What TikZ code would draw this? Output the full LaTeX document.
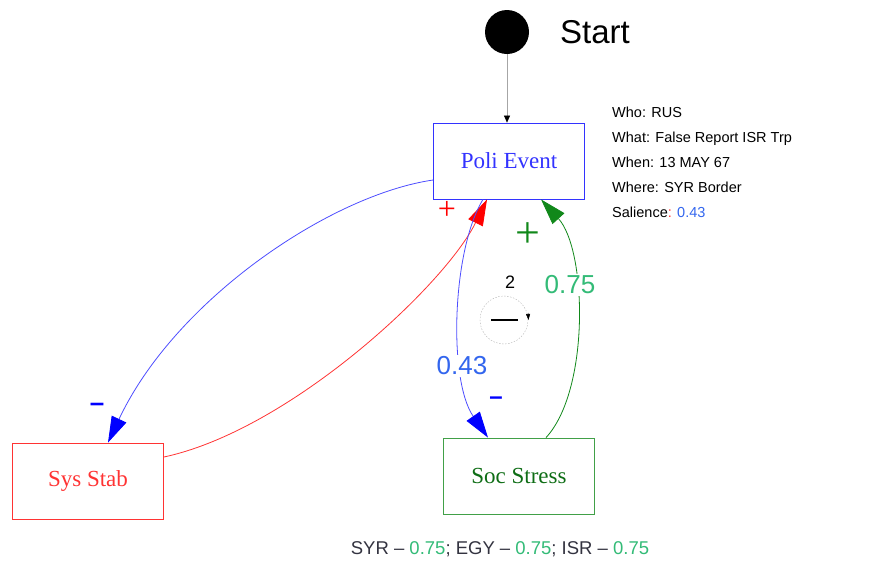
\documentclass[tikz,border=0pt]{standalone}
\usepackage{fontspec}
\setmainfont{Liberation Serif}
\newfontfamily\arialfont{Liberation Sans}
\usetikzlibrary{arrows.meta}
\definecolor{evblue}{HTML}{3333FF}
\definecolor{lnblue}{HTML}{4D4DFF}
\definecolor{valblue}{HTML}{3366EE}
\definecolor{evred}{HTML}{FF3333}
\definecolor{evgreen}{HTML}{11881A}
\definecolor{valgreen}{HTML}{33BB77}
\definecolor{txtgray}{HTML}{333340}
\tikzset{
  factor/.style={draw, line width=0.8pt, minimum width=151pt, minimum height=76pt, inner sep=0pt,
    font=\fontsize{23}{23}\selectfont},
  lbl/.style={font=\arialfont\fontsize{#1}{#1}\selectfont, inner sep=1pt},
  sgn/.style={font=\fontsize{#1}{#1}\selectfont, inner sep=0pt},
  link/.style={line width=0.8pt, -{Triangle[length=26pt,width=16pt,#1]}}
}
\begin{document}
\begin{tikzpicture}[x=1pt,y=-1pt]
  \useasboundingbox (0,0) rectangle (870,563);
  % start
  \node[circle, fill=black, minimum size=44pt, inner sep=0pt] (start) at (507,32) {};
  \node[lbl=33, anchor=west] (startlbl) at (559,32) {Start};
  % factors
  \node[factor, draw=evblue, text=evblue] (poli) at (509,161) {Poli Event};
  \node[factor, draw=evred, text=evred] (sys) at (88,481) {Sys Stab};
  \node[factor, draw=evgreen!80, text=evgreen!80!black] (soc) at (519,476) {Soc Stress};
  \draw[gray!70, line width=0.6pt, -{Triangle[length=7pt,width=6pt,black]}] (start) -- (poli.north -| start);
  % event info
  \node[anchor=north west, align=left, inner sep=0pt, font=\arialfont\fontsize{14.5}{25}\selectfont] (info) at (612,107)
    {Who: RUS\\What: False Report ISR Trp\\When: 13 MAY 67\\Where: SYR Border\\Salience\textcolor{evred}{:} \textcolor{valblue}{0.43}};
  % links
  \draw[lnblue, link=blue] ([yshift=-19pt]poli.west) .. controls (330,195) and (175,300) .. ([xshift=20pt]sys.north);
  \node[lbl=26, text=blue, font=\arialfont\bfseries\fontsize{26}{26}\selectfont] (m1) at (97,407) {–};
  \draw[evred, link=red] ([yshift=24pt]sys.east) .. controls (290,430) and (445,285) .. ([xshift=-22pt]poli.south);
  \node[sgn=32, text=red] (p1) at (447,210) {+};
  \draw[lnblue, link=blue] ([xshift=-26pt]poli.south) .. controls (452,250) and (448,380) .. ([xshift=-31pt]soc.north);
  \node[lbl=26, fill=white, text=valblue, inner sep=2pt] (w1) at (462,366) {0.43};
  \node[lbl=24, text=blue, font=\arialfont\bfseries\fontsize{24}{24}\selectfont] (m2) at (496,401) {–};
  \draw[evgreen, link=evgreen] ([xshift=27pt]soc.north) .. controls (590,390) and (587,250) .. ([xshift=32pt]poli.south);
  \node[lbl=26, fill=white, text=valgreen, inner sep=2pt] (w2) at (570,285) {0.75};
  \node[sgn=44, text=evgreen] (p2) at (528,235) {+};
  % loop
  \node[circle, draw=gray!60, dashed, dash pattern=on 1.5pt off 1.5pt, minimum size=48pt, inner sep=0pt] (loop) at (504,320) {};
  \node[lbl=18] (lnum) at (510,282) {2};
  \draw[line width=1.8pt] ([xshift=-13pt]loop.center) coordinate (la) -- ([xshift=14pt]loop.center) coordinate (lb);
  \draw[line width=0.5pt, -{Triangle[length=6pt,width=4pt]}] ([shift={(24pt,7pt)}]loop.center) coordinate (lc) -- ([shift={(24.5pt,0pt)}]loop.center) coordinate (ld);
  % bottom
  \node[lbl=18.5, text=txtgray] (nations) at (500,549)
    {SYR – \textcolor{valgreen}{0.75}; EGY – \textcolor{valgreen}{0.75}; ISR – \textcolor{valgreen}{0.75}};
\end{tikzpicture}
\end{document}
